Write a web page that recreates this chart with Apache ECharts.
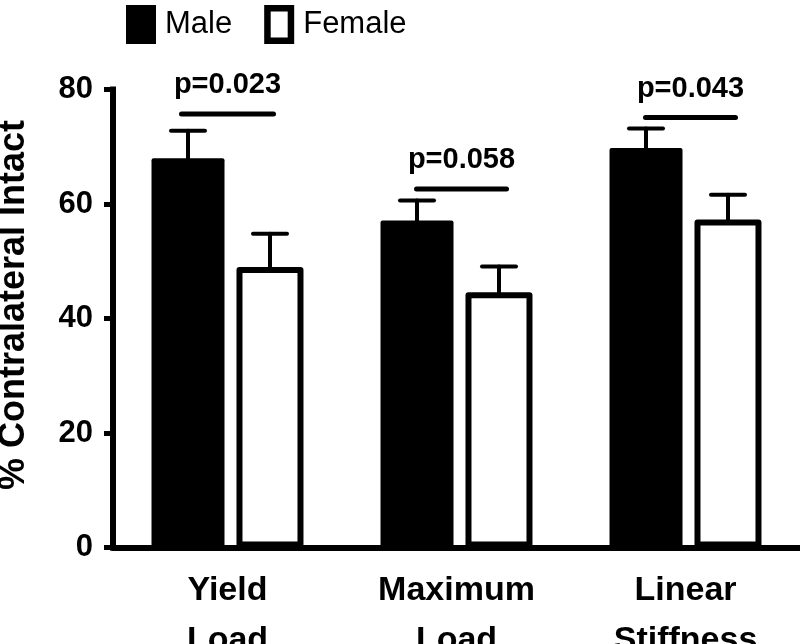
<!DOCTYPE html>
<html>
<head>
<meta charset="utf-8">
<script src="https://cdn.jsdelivr.net/npm/echarts@6/dist/echarts.min.js"></script>
<style>
html,body{margin:0;padding:0;background:#fff;}
#chart{width:800px;height:644px;}
</style>
</head>
<body>
<div id="chart"></div>
<script>
// ---- data ----
const categories = ['Yield\nLoad', 'Maximum\nLoad', 'Linear\nStiffness'];
const maleMean = [68.0, 57.1, 69.8];
const maleErr = [4.8, 3.5, 3.4];
const femaleMean = [49.0, 44.6, 57.3];
const femaleErr = [5.8, 4.5, 4.3];
const pLabels = ['p=0.023', 'p=0.058', 'p=0.043'];
const sigLineY = [75.7, 62.6, 75.1];
const yMin = 0, yMax = 80, yInterval = 20;
const yTitle = '% Contralateral Intact';
const seriesNames = ['Male', 'Female'];

// ---- style constants ----
const FONT = 'Liberation Sans, Arial, Helvetica, sans-serif';
const MALE_W = 73, FEMALE_W = 67, GAP = '16.4%';
const MALE_OFF = -39.5, FEMALE_OFF = 42.5;
const SIG_OFF = [[-46, 46], [-40, 50], [-40, 50]];

const chart = echarts.init(document.getElementById('chart'), null, {renderer: 'canvas'});

function errRender(offset) {
  return function (params, api) {
    const cat = api.value(0), v = api.value(1), e = api.value(2);
    const b = api.coord([cat, v]);
    const t = api.coord([cat, v + e]);
    const x = b[0] + offset;
    const st = {stroke: '#000', lineWidth: 4, lineCap: 'round'};
    return {
      type: 'group',
      children: [
        {type: 'line', shape: {x1: x, y1: b[1], x2: x, y2: t[1]}, style: st},
        {type: 'line', shape: {x1: x - 17, y1: t[1], x2: x + 17, y2: t[1]}, style: st}
      ]
    };
  };
}

const option = {
  animation: false,
  backgroundColor: '#fff',
  grid: {left: 113, right: 0, top: 89.5, bottom: 96.5, containLabel: false, outerBoundsMode: 'none'},
  legend: {
    left: 121, top: 0,
    itemWidth: 30, itemHeight: 39, itemGap: 32,
    data: [
      {name: seriesNames[0], icon: 'rect', itemStyle: {color: '#000', borderWidth: 0}},
      {name: seriesNames[1], icon: 'path://M0,0H30V39H0Z M6.5,6.5V32.5H23.5V6.5Z', itemStyle: {color: '#000', borderWidth: 0}}
    ],
    textStyle: {fontSize: 31, fontFamily: FONT, color: '#000', padding: [0, 0, 0, 4]}
  },
  graphic: [{
    type: 'text', x: 14, y: 305, rotation: Math.PI / 2,
    style: {text: yTitle, fontSize: 36, fontWeight: 'bold', fontFamily: FONT, fill: '#000', align: 'center', verticalAlign: 'middle'}
  }],
  xAxis: {
    type: 'category', data: categories,
    axisLine: {lineStyle: {color: '#000', width: 6}},
    axisTick: {show: false},
    axisLabel: {fontSize: 34, fontWeight: 'bold', fontFamily: FONT, color: '#000', lineHeight: 50, margin: 18}
  },
  yAxis: {
    type: 'value', min: yMin, max: yMax, interval: yInterval,
    splitLine: {show: false},
    axisLine: {show: true, lineStyle: {color: '#000', width: 6, cap: 'square'}},
    axisTick: {show: true, length: 9, lineStyle: {color: '#000', width: 5}},
    axisLabel: {fontSize: 31, fontWeight: 'bold', fontFamily: FONT, color: '#000', margin: 20}
  },
  series: [
    {
      name: seriesNames[0], type: 'bar', data: maleMean, barWidth: MALE_W, barGap: GAP,
      itemStyle: {color: '#000', borderRadius: 2}
    },
    {
      name: seriesNames[1], type: 'bar', data: femaleMean, barWidth: FEMALE_W, barGap: GAP,
      itemStyle: {color: '#fff', borderColor: '#000', borderWidth: 6, borderJoin: 'round'}
    },
    {
      type: 'custom', name: 'maleErr', z: 5,
      data: maleMean.map((v, i) => [i, v, maleErr[i]]),
      encode: {x: 0, y: 1},
      renderItem: errRender(MALE_OFF)
    },
    {
      type: 'custom', name: 'femaleErr', z: 5,
      data: femaleMean.map((v, i) => [i, v, femaleErr[i]]),
      encode: {x: 0, y: 1},
      renderItem: errRender(FEMALE_OFF)
    },
    {
      type: 'custom', name: 'sig', z: 5,
      data: sigLineY.map((v, i) => [i, v]),
      encode: {x: 0, y: 1},
      renderItem: function (params, api) {
        const i = params.dataIndex;
        const p = api.coord([api.value(0), api.value(1)]);
        const x1 = p[0] + SIG_OFF[i][0], x2 = p[0] + SIG_OFF[i][1];
        const cx = (x1 + x2) / 2;
        return {
          type: 'group',
          children: [
            {type: 'line', shape: {x1: x1, y1: p[1], x2: x2, y2: p[1]}, style: {stroke: '#000', lineWidth: 5, lineCap: 'round'}},
            {type: 'text', x: cx, y: p[1] - 29, style: {text: pLabels[i], fontSize: 29, fontWeight: 'bold', fontFamily: FONT, fill: '#000', align: 'center', verticalAlign: 'middle'}}
          ]
        };
      }
    }
  ]
};
chart.setOption(option);
</script>
</body>
</html>
